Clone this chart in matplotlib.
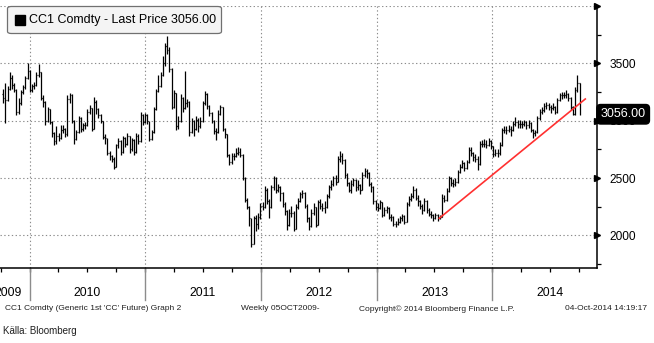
import datetime as dt
import matplotlib
matplotlib.use("Agg")
import matplotlib.pyplot as plt
import matplotlib.dates as mdates
import matplotlib.transforms as mtransforms
from matplotlib.patches import FancyBboxPatch, Rectangle

# Weekly bars for the generic 1st cocoa future (USD/t), Fridays from 9 Oct 2009
first_week = dt.date(2009, 10, 9)
closes = [
    3200, 3180, 3280, 3370, 3310, 3270, 3080, 3150, 3250, 3290,
    3370, 3430, 3270, 3300, 3310, 3400, 3420, 3200, 3160, 3000,
    3100, 2990, 2890, 2820, 2870, 2850, 2920, 2930, 2880, 3190,
    3220, 3000, 2840, 2900, 3020, 2930, 2960, 2960, 3080, 3110,
    2930, 3160, 3100, 3050, 3000, 2860, 2850, 2720, 2690, 2670,
    2600, 2790, 2820, 2730, 2850, 2800, 2870, 2750, 2830, 2730,
    2870, 2820, 3050, 2990, 3050, 3000, 2840, 2900, 3100, 3260,
    3300, 3400, 3500, 3650, 3620, 3450, 3120, 3240, 2950, 3000,
    3200, 3110, 3150, 3160, 2900, 3000, 2930, 3010, 2950, 3000,
    3150, 3230, 3130, 3070, 3000, 2910, 2900, 3060, 3120, 2930,
    2880, 2700, 2640, 2690, 2690, 2720, 2730, 2700, 2500, 2310,
    2250, 2150, 1930, 2150, 2100, 2160, 2260, 2250, 2400, 2300,
    2250, 2420, 2500, 2400, 2420, 2370, 2270, 2210, 2090, 2200,
    2200, 2060, 2250, 2300, 2360, 2370, 2260, 2150, 2080, 2200,
    2250, 2090, 2290, 2260, 2240, 2250, 2340, 2420, 2450, 2500,
    2470, 2670, 2690, 2660, 2530, 2460, 2400, 2450, 2480, 2420,
    2440, 2400, 2530, 2560, 2540, 2450, 2420, 2300, 2250, 2240,
    2290, 2180, 2220, 2240, 2160, 2160, 2100, 2100, 2120, 2150,
    2170, 2120, 2270, 2320, 2340, 2400, 2330, 2300, 2260, 2220,
    2300, 2220, 2190, 2180, 2150, 2180, 2150, 2160, 2330, 2310,
    2390, 2500, 2460, 2450, 2470, 2555, 2600, 2630, 2590, 2640,
    2745, 2720, 2680, 2670, 2620, 2800, 2800, 2800, 2790, 2820,
    2780, 2710, 2720, 2715, 2790, 2920, 2920, 2920, 2930, 2920,
    2970, 2990, 2970, 2975, 2970, 2990, 2960, 2980, 2920, 2890,
    2900, 3020, 3080, 3090, 3130, 3135, 3120, 3110, 3120, 3080,
    3180, 3220, 3225, 3225, 3230, 3200, 3120, 3060, 3270, 3325,
    3056,
]
highs = [
    3280, 3330, 3300, 3420, 3400, 3330, 3280, 3200, 3270, 3310,
    3390, 3500, 3440, 3320, 3340, 3420, 3490, 3420, 3220, 3170,
    3120, 3100, 3000, 2900, 2950, 2890, 2960, 2960, 2940, 3220,
    3240, 3230, 3010, 2920, 3040, 3030, 2980, 2990, 3100, 3140,
    3110, 3210, 3180, 3110, 3060, 3000, 2880, 2850, 2740, 2700,
    2680, 2800, 2850, 2830, 2870, 2860, 2890, 2870, 2850, 2840,
    2890, 2880, 3080, 3060, 3070, 3060, 3000, 2920, 3120, 3280,
    3400, 3420, 3560, 3680, 3740, 3640, 3460, 3270, 3240, 3040,
    3230, 3210, 3430, 3190, 3170, 3020, 3010, 3040, 3020, 3030,
    3170, 3260, 3240, 3140, 3080, 3010, 2940, 3090, 3140, 3120,
    2940, 2880, 2710, 2720, 2720, 2760, 2770, 2760, 2710, 2510,
    2330, 2260, 2150, 2170, 2180, 2200, 2280, 2290, 2430, 2410,
    2320, 2440, 2520, 2510, 2450, 2430, 2380, 2290, 2220, 2230,
    2260, 2210, 2270, 2330, 2380, 2400, 2380, 2270, 2160, 2230,
    2280, 2250, 2310, 2320, 2280, 2300, 2360, 2440, 2480, 2520,
    2530, 2690, 2740, 2720, 2670, 2540, 2470, 2480, 2500, 2490,
    2480, 2450, 2550, 2590, 2580, 2550, 2470, 2430, 2310, 2280,
    2310, 2290, 2250, 2260, 2250, 2190, 2170, 2130, 2150, 2170,
    2190, 2180, 2290, 2340, 2370, 2430, 2410, 2350, 2310, 2270,
    2330, 2310, 2240, 2210, 2190, 2200, 2190, 2180, 2360, 2350,
    2410, 2520, 2510, 2490, 2500, 2570, 2620, 2660, 2640, 2660,
    2770, 2770, 2730, 2710, 2690, 2820, 2830, 2840, 2830, 2850,
    2830, 2780, 2750, 2750, 2810, 2940, 2950, 2950, 2960, 2950,
    3000, 3030, 3010, 3010, 3000, 3010, 3000, 3010, 2990, 2930,
    2920, 3040, 3100, 3120, 3150, 3160, 3150, 3140, 3150, 3130,
    3200, 3240, 3250, 3250, 3270, 3240, 3210, 3130, 3290, 3400,
    3330,
]
lows = [
    3150, 2980, 3170, 3270, 3280, 3250, 3050, 3060, 3140, 3230,
    3280, 3360, 3250, 3250, 3280, 3300, 3380, 3180, 3120, 2960,
    2990, 2970, 2860, 2790, 2800, 2820, 2840, 2890, 2860, 2870,
    3150, 2980, 2800, 2830, 2890, 2900, 2910, 2930, 2950, 3060,
    2910, 2930, 3060, 3020, 2980, 2840, 2800, 2700, 2660, 2640,
    2580, 2600, 2760, 2700, 2720, 2770, 2790, 2720, 2740, 2700,
    2720, 2800, 2810, 2960, 2980, 2970, 2820, 2830, 2890, 3090,
    3250, 3290, 3390, 3480, 3580, 3420, 3100, 3110, 2920, 2930,
    2990, 3080, 3100, 3120, 2870, 2890, 2870, 2920, 2900, 2940,
    2990, 3140, 3100, 3040, 2980, 2880, 2830, 2890, 3050, 2910,
    2850, 2680, 2610, 2620, 2660, 2680, 2700, 2680, 2480, 2290,
    2230, 2080, 1900, 1930, 2040, 2060, 2140, 2220, 2240, 2270,
    2150, 2240, 2400, 2370, 2380, 2300, 2250, 2180, 2050, 2080,
    2160, 2040, 2060, 2230, 2290, 2330, 2240, 2120, 2050, 2070,
    2180, 2070, 2090, 2230, 2210, 2200, 2240, 2330, 2400, 2430,
    2440, 2470, 2640, 2620, 2500, 2430, 2380, 2370, 2430, 2390,
    2400, 2360, 2400, 2510, 2500, 2430, 2380, 2270, 2220, 2210,
    2230, 2160, 2170, 2200, 2140, 2130, 2080, 2070, 2090, 2110,
    2130, 2100, 2120, 2260, 2300, 2330, 2310, 2260, 2230, 2190,
    2210, 2200, 2170, 2150, 2130, 2140, 2130, 2140, 2160, 2290,
    2300, 2380, 2430, 2420, 2430, 2460, 2540, 2590, 2560, 2580,
    2630, 2690, 2650, 2640, 2570, 2610, 2770, 2770, 2760, 2780,
    2750, 2680, 2690, 2680, 2700, 2780, 2890, 2880, 2900, 2870,
    2910, 2950, 2940, 2940, 2940, 2950, 2930, 2940, 2900, 2850,
    2870, 2890, 3010, 3060, 3080, 3100, 3090, 3070, 3090, 3060,
    3070, 3170, 3190, 3200, 3200, 3170, 3090, 3050, 3050, 3250,
    3050,
]

# Support trend line drawn under the 2013-2014 advance
trend_dates = [dt.date(2013, 7, 17), dt.date(2014, 10, 21)]
trend_values = [2150, 3189]

last_price = 3056.00
y_major = [2000, 2500, 3000, 3500, 4000]
y_labels = ["2000", "2500", "3000", "3500", ""]
y_minor = [1750, 2250, 2750, 3250, 3750]
years = [2009, 2010, 2011, 2012, 2013, 2014]
# label anchor dates: mid-year, except the partial first year
year_label_dates = [dt.date(2009, 10, 25), dt.date(2010, 7, 2), dt.date(2011, 7, 2),
                    dt.date(2012, 7, 2), dt.date(2013, 7, 2), dt.date(2014, 7, 2)]

W, H = 654, 343
fig = plt.figure(figsize=(W / 100, H / 100), dpi=100)
fig.patch.set_facecolor("white")
ax = fig.add_axes([0, 1 - 268.3 / H, 597 / W, (268.3 - 5.9) / H])

dates = [first_week + dt.timedelta(days=7 * k) for k in range(len(closes))]
xd = mdates.date2num(dates)
opens = [closes[0] + 30] + closes[:-1]
half = 2.6

ax.vlines(xd, lows, highs, color="black", lw=0.9, zorder=3)
ax.hlines(opens, xd - half, xd, color="black", lw=0.9, zorder=3)
ax.hlines(closes, xd, xd + half, color="black", lw=0.9, zorder=3)

ax.plot(mdates.date2num(trend_dates), trend_values, color="#ff3030", lw=1.2, zorder=4)

x_left = mdates.date2num(dt.date(2009, 9, 29))
x_right = mdates.date2num(dt.date(2014, 11, 27))

# dotted grid
grid_kw = dict(color="#8c8c8c", lw=0.8, linestyle=(0, (1.2, 2.2)), zorder=1)
for v in y_major:
    ax.axhline(v, **grid_kw)
for yr in years[1:]:
    ax.axvline(mdates.date2num(dt.date(yr, 1, 1)), **grid_kw)

for s in ["top", "left"]:
    ax.spines[s].set_visible(False)
ax.spines["bottom"].set_linewidth(1.1)
ax.spines["right"].set_linewidth(1.1)

# right-hand price scale
ax.yaxis.tick_right()
ax.set_yticks(y_major)
ax.set_yticklabels(y_labels, fontsize=8.6, family="Liberation Sans")
ax.set_yticks(y_minor, minor=True)
ax.tick_params(axis="y", which="major", length=0, pad=9)
ax.tick_params(axis="y", which="minor", length=3, width=0.9, direction="out")
tr_y = mtransforms.blended_transform_factory(ax.transAxes, ax.transData)
ax.plot([1.0] * len(y_major), y_major, linestyle="none", marker=">", ms=5,
        color="black", transform=tr_y, clip_on=False, zorder=5)

# quarterly ticks below the time axis
quarters = [mdates.date2num(dt.date(y, m, 1)) for y in range(2009, 2015) for m in (1, 4, 7, 10)]
quarters = [q for q in quarters if x_left < q < x_right]
ax.set_xticks([])
ax.set_xticks(quarters, minor=True)
ax.tick_params(axis="x", which="minor", length=3, width=0.9, direction="out")
ax.set_xlim(x_left, x_right)
ax.set_ylim(1714, 4000)

# year separators and year labels
tr_x = mtransforms.blended_transform_factory(ax.transData, ax.transAxes)
for yr in years[1:]:
    xv = mdates.date2num(dt.date(yr, 1, 1))
    ax.plot([xv, xv], [0, -0.12], color="#8c8c8c", lw=1.0, transform=tr_x, clip_on=False)
for yr, d in zip(years, year_label_dates):
    ax.text(mdates.date2num(d), -0.095, str(yr), transform=tr_x, ha="center", va="center",
            fontsize=8.8, family="Liberation Sans", clip_on=False)

# legend box
leg = FancyBboxPatch((7.5 / W, 1 - 33.5 / H), 214 / W, 27 / H,
                     boxstyle="round,pad=0,rounding_size=0.006",
                     transform=fig.transFigure, facecolor="#f4f4f4",
                     edgecolor="#707070", lw=0.9, zorder=10)
fig.patches.append(leg)
fig.patches.append(Rectangle((15 / W, 1 - 25 / H), 10 / W, 10 / H,
                             transform=fig.transFigure, facecolor="black",
                             edgecolor="black", zorder=11))
fig.text(29 / W, 1 - 20 / H, f"CC1 Comdty - Last Price {last_price:.2f}",
         fontsize=9, family="Liberation Sans", va="center", ha="left", zorder=12)

# last price tag on the scale
ax.text(1.006, last_price, f"{last_price:.2f}", transform=tr_y, ha="left", va="center",
        color="white", fontsize=9, family="Liberation Sans", zorder=20, clip_on=False,
        bbox=dict(boxstyle="round,pad=0.3,rounding_size=0.3", facecolor="black",
                  edgecolor="black"))

# footer
foot_kw = dict(fontsize=6.0, family="Liberation Sans", va="center", color="#202020")
fig.text(5 / W, 1 - 309 / H, "CC1 Comdty (Generic 1st 'CC' Future) Graph 2", ha="left", **foot_kw)
fig.text(241 / W, 1 - 309 / H, "Weekly 05OCT2009-", ha="left", **foot_kw)
fig.text(359 / W, 1 - 309 / H, "Copyright\u00a9 2014 Bloomberg Finance L.P.", ha="left", **foot_kw)
fig.text(647 / W, 1 - 309 / H, "04-Oct-2014 14:19:17", ha="right", **foot_kw)
fig.text(3 / W, 1 - 331 / H, "Källa: Bloomberg", ha="left", va="center",
         fontsize=7, family="Liberation Sans", color="#202020")

fig.savefig("out.png", dpi=100, facecolor="white")
